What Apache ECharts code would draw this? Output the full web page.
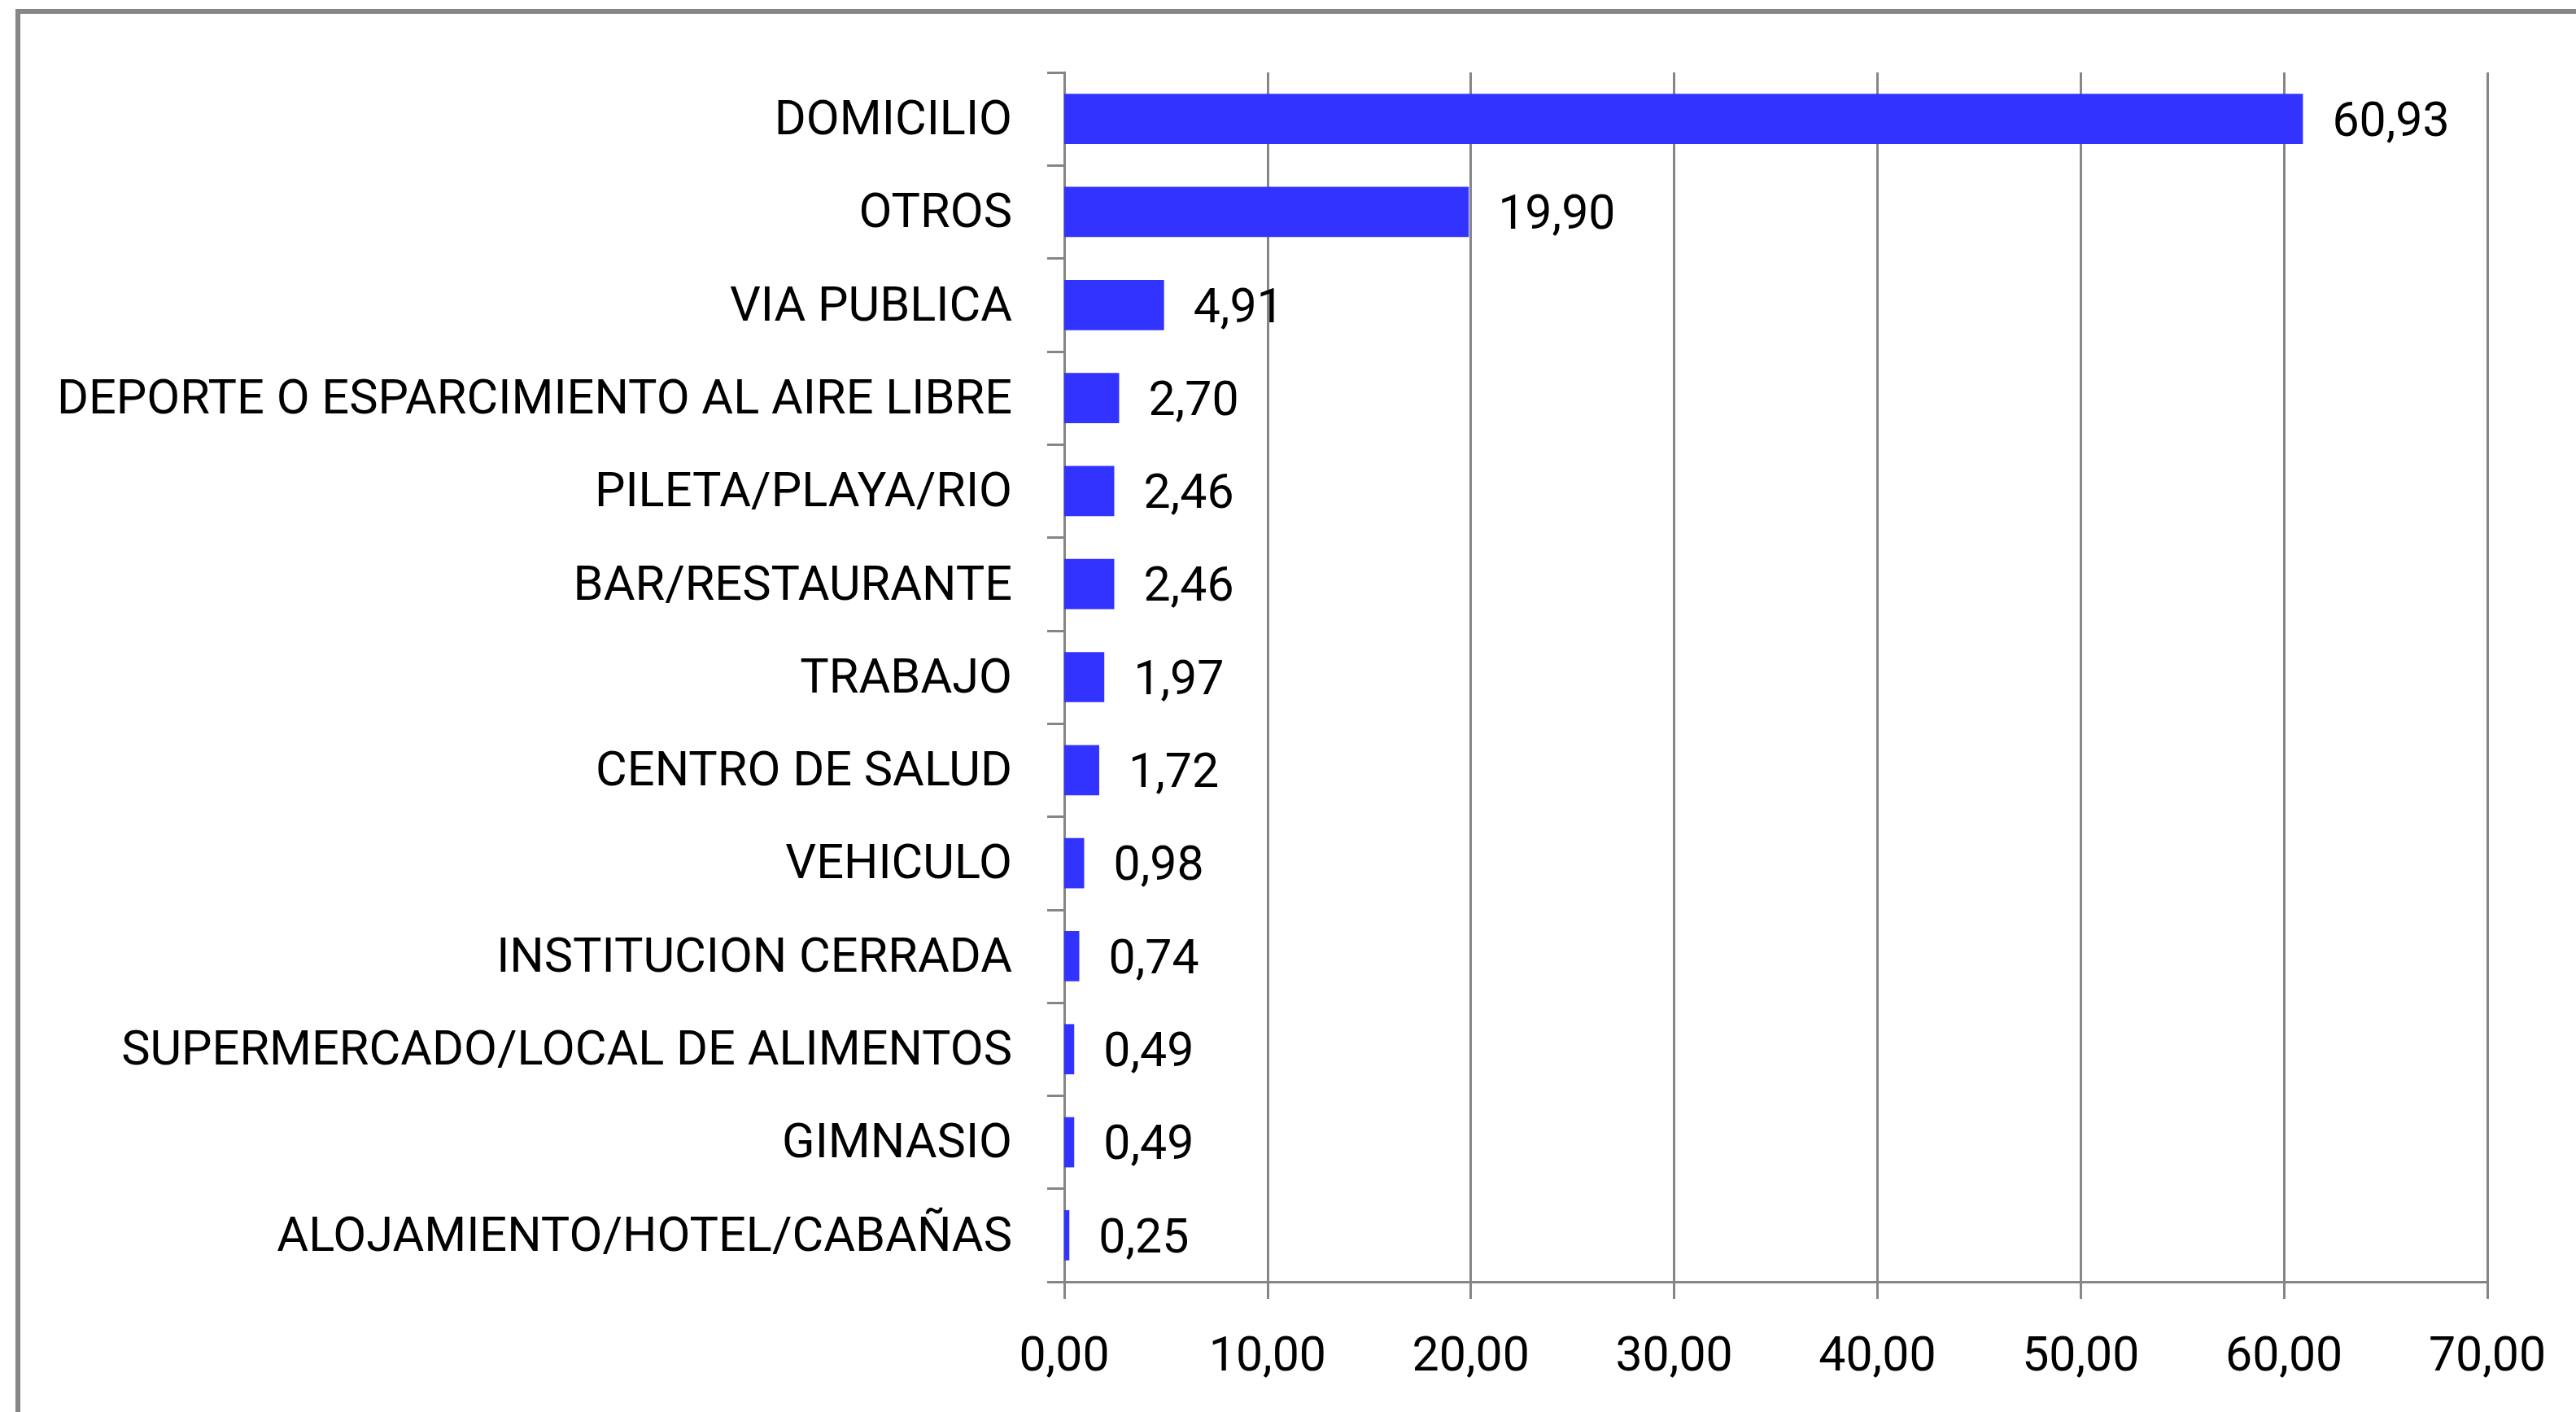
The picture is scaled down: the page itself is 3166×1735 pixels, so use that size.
<!DOCTYPE html>
<html>
<head>
<meta charset="utf-8">
<script src="https://cdn.jsdelivr.net/npm/echarts@6/dist/echarts.min.js"></script>
<style>
  html, body { margin: 0; padding: 0; background: #fff; }
  #main { width: 3166px; height: 1735px; }
</style>
</head>
<body>
<div id="main"></div>
<script>
// categorias, de arriba hacia abajo
const lugares = [
  "DOMICILIO",
  "OTROS",
  "VIA PUBLICA",
  "DEPORTE O ESPARCIMIENTO AL AIRE LIBRE",
  "PILETA/PLAYA/RIO",
  "BAR/RESTAURANTE",
  "TRABAJO",
  "CENTRO DE SALUD",
  "VEHICULO",
  "INSTITUCION CERRADA",
  "SUPERMERCADO/LOCAL DE ALIMENTOS",
  "GIMNASIO",
  "ALOJAMIENTO/HOTEL/CABAÑAS",
];
const porcentajes = [60.93, 19.9, 4.91, 2.7, 2.46, 2.46, 1.97, 1.72, 0.98, 0.74, 0.49, 0.49, 0.25];
const ejeMin = 0;
const ejeMax = 70;
const ejeIntervalo = 10;

const fmt = (v) => Number(v).toFixed(2).replace(".", ",");
const gris = "#868686";
const fuente = "Roboto";

var myChart = echarts.init(document.getElementById("main"));

var option = {
  animation: false,
  backgroundColor: "#fff",
  textStyle: { fontFamily: fuente },
  // marco exterior (solo se ven arriba e izquierda)
  graphic: [
    {
      type: "rect",
      shape: { x: 22, y: 14, width: 3300, height: 1900 },
      style: { fill: null, stroke: gris, lineWidth: 6 },
      silent: true,
    },
  ],
  grid: {
    left: 1308,
    right: 109,
    top: 89,
    bottom: 160,
    containLabel: false,
  },
  xAxis: {
    type: "value",
    min: ejeMin,
    max: ejeMax,
    interval: ejeIntervalo,
    axisLine: { show: true, lineStyle: { color: gris, width: 3 } },
    axisTick: { show: true, length: 21, lineStyle: { color: gris, width: 3 } },
    splitLine: { show: true, lineStyle: { color: gris, width: 3 } },
    axisLabel: {
      color: "#000",
      fontSize: 59,
      fontFamily: fuente,
      margin: 65,
      formatter: fmt,
    },
  },
  yAxis: {
    type: "category",
    inverse: true,
    data: lugares,
    axisLine: { show: true, lineStyle: { color: gris, width: 3 } },
    axisTick: { show: true, length: 21, lineStyle: { color: gris, width: 3 } },
    axisLabel: {
      color: "#000",
      fontSize: 59.5,
      fontFamily: fuente,
      margin: 64,
      // bajar un poco el texto como en el original
      formatter: (v) => "{a|" + v + "}",
      rich: {
        a: {
          color: "#000",
          fontSize: 59.5,
          fontFamily: fuente,
          padding: [8, 0, 0, 0],
        },
      },
    },
  },
  series: [
    {
      type: "bar",
      data: porcentajes,
      barCategoryGap: "46%",
      itemStyle: { color: "#3333FF" },
      label: {
        show: true,
        position: "right",
        distance: 36,
        offset: [0, 6],
        color: "#000",
        fontSize: 59,
        fontFamily: fuente,
        formatter: (p) => fmt(p.value),
      },
    },
  ],
};

option && myChart.setOption(option);
</script>
</body>
</html>
